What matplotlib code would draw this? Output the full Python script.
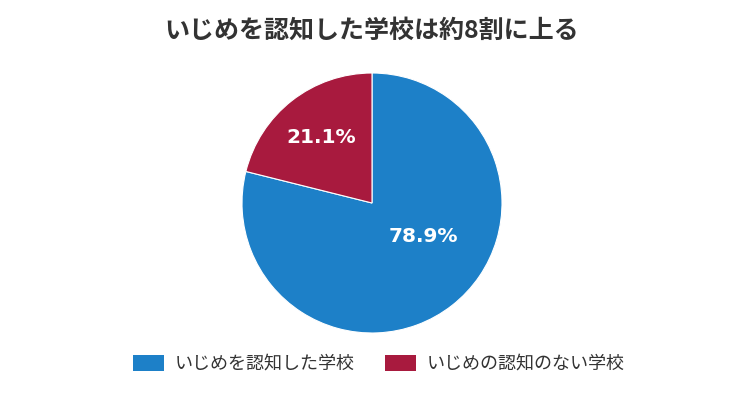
import matplotlib.pyplot as plt
from matplotlib.patches import Patch

plt.rcParams['font.family'] = ['Noto Sans CJK JP', 'DejaVu Sans']

title = 'いじめを認知した学校は約8割に上る'
labels = ['いじめを認知した学校', 'いじめの認知のない学校']
shares = [78.9, 21.1]
colors = ['#1d80c8', '#a81a3e']

fig = plt.figure(figsize=(7.5, 3.95), dpi=100)

# pie axes: centre ~ (372, 203) px, radius ~130 px
w, h = 260 / 750, 260 / 395
cx, cy = 372 / 750, 1 - 203 / 395
ax = fig.add_axes([cx - w / 2, cy - h / 2, w, h])

wedges, texts, autotexts = ax.pie(
    shares, colors=colors, startangle=90, counterclock=False,
    autopct='%.1f%%', pctdistance=0.64,
    wedgeprops=dict(edgecolor='white', linewidth=0.8),
    textprops=dict(color='white', fontsize=14.5, fontweight='bold',
                   family='DejaVu Sans'))
ax.set_xlim(-1, 1)
ax.set_ylim(-1, 1)

# the big slice label sits higher than its mid-angle
bx, by = autotexts[0].get_position()
autotexts[0].set_position((bx, by + 0.25))

fig.text(0.496, 1 - 31 / 395, title, ha='center', va='center',
         fontsize=18, fontweight='bold', color='#333333')

handles = [Patch(facecolor=c, edgecolor='none') for c in colors]
fig.legend(handles, labels, loc='center', bbox_to_anchor=(0.505, 1 - 364 / 395),
           ncol=2, frameon=False, fontsize=13, labelcolor='#333333',
           handlelength=1.7, handleheight=0.95, handletextpad=0.6,
           columnspacing=1.7)

fig.savefig('out.png', dpi=100)
